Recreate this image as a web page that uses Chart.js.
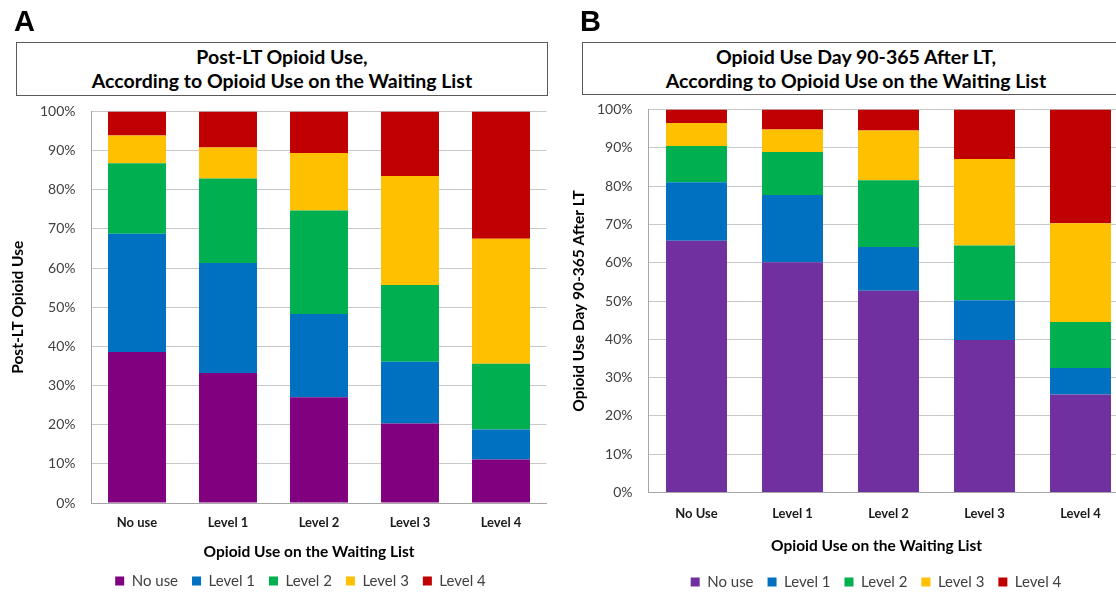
<!DOCTYPE html>
<html><head><meta charset="utf-8">
<script src="https://cdn.jsdelivr.net/npm/chart.js@4.4.1/dist/chart.umd.min.js"></script>
<style>
html,body{margin:0;padding:0;background:#fff;overflow:hidden;}
#wrap{position:relative;width:1116px;height:593px;overflow:hidden;background:#fff;}
canvas{position:absolute;top:0;}
#cA{left:0;width:560px;height:620px;}
#cB{left:560px;width:580px;height:620px;}
.letter{position:absolute;font:bold 29px 'Liberation Sans',Arial,sans-serif;color:#000;line-height:29px;}
.tbox{position:absolute;box-sizing:border-box;border:1px solid #595959;background:#fff;text-align:center;font:bold 19.5px Lato,sans-serif;line-height:24px;color:#000;padding-top:2px;}
</style></head>
<body><div id="wrap">
<canvas id="cA" width="560" height="620"></canvas>
<canvas id="cB" width="580" height="620"></canvas>
<div class="letter" style="left:14px;top:7px">A</div>
<div class="letter" style="left:580px;top:7px">B</div>
<div class="tbox" style="left:16px;top:42px;width:532px;height:54px">Post-LT Opioid Use,<br>According to Opioid Use on the Waiting List</div>
<div class="tbox" style="left:582px;top:42px;width:548px;height:53px">Opioid Use Day 90-365 After LT,<br>According to Opioid Use on the Waiting List</div>
</div>
<script>
// ---- data ----
const seriesNames = ['No use', 'Level 1', 'Level 2', 'Level 3', 'Level 4'];
const categoriesA = ['No use', 'Level 1', 'Level 2', 'Level 3', 'Level 4'];
const categoriesB = ['No Use', 'Level 1', 'Level 2', 'Level 3', 'Level 4'];
const xAxisTitle = 'Opioid Use on the Waiting List';
const yTitleA = 'Post-LT Opioid Use';
const yTitleB = 'Opioid Use Day 90-365 After LT';

// Panel A: Post-LT opioid use (%)
const noUseA  = [38.6, 33.2, 27.0, 20.3, 11.1];
const level1A = [30.2, 28.1, 21.3, 15.8, 7.7];
const level2A = [18.0, 21.6, 26.4, 19.6, 16.8];
const level3A = [7.1, 7.9, 14.7, 27.8, 31.9];
const level4A = [6.1, 9.2, 10.6, 16.5, 32.5];

// Panel B: Opioid use day 90-365 after LT (%)
const noUseB  = [65.7, 60.1, 52.7, 39.8, 25.6];
const level1B = [15.3, 17.6, 11.4, 10.4, 6.9];
const level2B = [9.5, 11.2, 17.4, 14.3, 12.0];
const level3B = [6.0, 5.9, 13.0, 22.6, 25.8];
const level4B = [3.5, 5.2, 5.5, 12.9, 29.7];

const colorsA = ['#800080', '#0070C0', '#00B050', '#FFC000', '#C00000'];
const colorsB = ['#7030A0', '#0070C0', '#00B050', '#FFC000', '#C00000'];

Chart.defaults.font.family = 'Lato, sans-serif';
const gridColor = '#C8C8C8';
const axisColor = '#A6A6A6';

// shifts the bottom title / legend horizontally (they are centred on the whole chart in the original)
const shiftPlugin = {
  id: 'shift',
  afterLayout(chart, args, opts) {
    if (chart.legend) { chart.legend.left += opts.legendDx || 0; chart.legend.right += opts.legendDx || 0; }
    if (chart.titleBlock) { chart.titleBlock.left += opts.titleDx || 0; chart.titleBlock.right += opts.titleDx || 0; }
  }
};

function build(id, cats, values, colors, g) {
  const datasets = seriesNames.map((n, i) => ({
    label: n, data: values[i], backgroundColor: colors[i], borderWidth: 0,
    barPercentage: g.barPct, categoryPercentage: 1
  }));
  return new Chart(document.getElementById(id), {
    type: 'bar',
    data: { labels: cats, datasets },
    plugins: [shiftPlugin],
    options: {
      responsive: false, animation: false,
      layout: { padding: { left: 0, right: g.pr, top: g.pt, bottom: g.pb } },
      scales: {
        x: {
          stacked: true,
          grid: { display: false, drawTicks: false },
          border: { display: true, color: axisColor },
          ticks: { font: { size: 13, weight: 'bold' }, color: '#1a1a1a', padding: g.xTickPad, maxRotation: 0, autoSkip: false },
          afterFit: s => { s.height = g.xH; }
        },
        y: {
          stacked: true, min: 0, max: 100,
          ticks: { stepSize: 10, autoSkip: false, callback: v => v + '%', font: { size: 14 }, color: '#404040', padding: 16 },
          grid: { color: gridColor, drawTicks: false },
          border: { display: true, color: axisColor },
          title: { display: true, text: g.yTitle, font: { size: 15.5, weight: 'bold' }, color: '#000', padding: { top: g.yTitlePad, bottom: 0 } },
          afterFit: s => { s.width = g.yW; }
        }
      },
      plugins: {
        shift: { legendDx: g.legendDx, titleDx: g.titleDx },
        legend: {
          position: 'bottom', weight: 1000,
          labels: { boxWidth: 9, boxHeight: 9, padding: 14, font: { size: 15 }, color: '#404040' }
        },
        title: {
          display: true, position: 'bottom', weight: 100, text: xAxisTitle,
          font: { size: 15.5, weight: 'bold' }, color: '#000',
          padding: { top: g.tTop, bottom: g.tBottom }
        },
        tooltip: { enabled: false }
      }
    }
  });
}

build('cA', categoriesA, [noUseA, level1A, level2A, level3A, level4A], colorsA, {
  barPct: 0.637, pr: 13.5, pt: 111.5, pb: 21.5, yW: 91.5,
  xTickPad: 12, xH: 30, yTitle: yTitleA, yTitlePad: 8.7, tTop: 9.7, tBottom: -1.8,
  legendDx: 27.25, titleDx: 35.75
});
build('cB', categoriesB, [noUseB, level1B, level2B, level3B, level4B], colorsB, {
  barPct: 0.635, pr: 11.5, pt: 109.5, pb: 20.5, yW: 88.5,
  xTickPad: 13.3, xH: 30, yTitle: yTitleB, yTitlePad: 9.7, tTop: 14.2, tBottom: 5.2,
  legendDx: 31.75, titleDx: 32.25
});
</script>
</body></html>
